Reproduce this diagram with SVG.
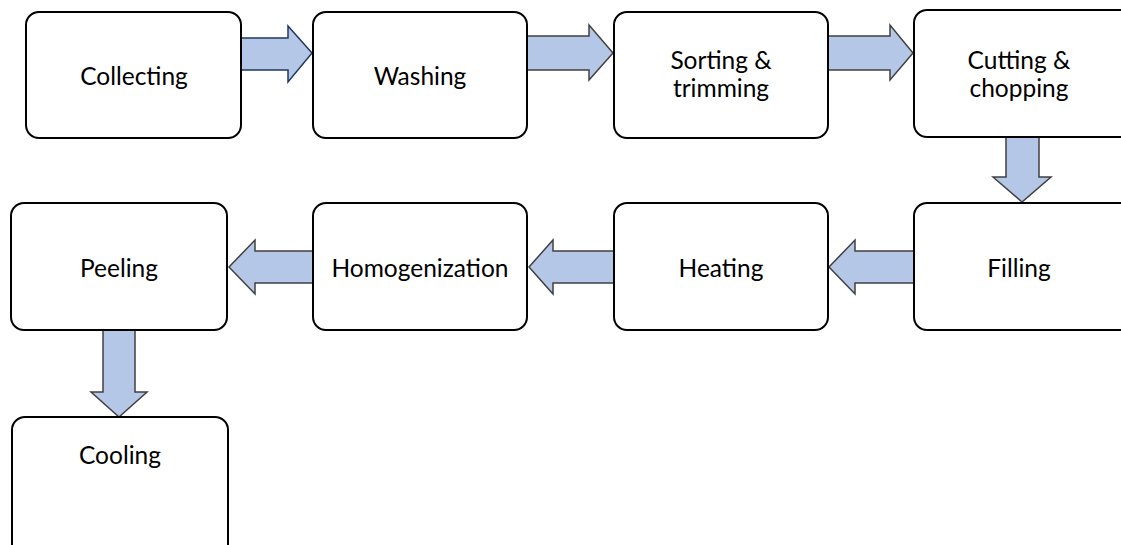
<svg xmlns="http://www.w3.org/2000/svg" width="1121" height="545" viewBox="0 0 1121 545">
<style>
.box{fill:#fff;stroke:#000;stroke-width:2}
.t{font-family:Lato,"Liberation Sans",sans-serif;font-size:24.5px;fill:#000;text-anchor:middle}
.ar{fill:#B4C7E7;stroke:#404040;stroke-width:1.5;stroke-linejoin:miter}
.ar1{fill:#B4C7E7;stroke:#1F3864;stroke-width:1.5}
</style>
<rect width="1121" height="545" fill="#fff"/>
<g id="connectors">
<polygon class="ar1" points="237,38 288,38 288,26 312,53 288,82 288,70 237,70"/>
<polygon class="ar" points="522,36 589,36 589,25 613,53 589,80 589,70 522,70"/>
<polygon class="ar" points="825,36 890,36 890,25 913,53 890,80 890,70 825,70"/>
<polygon class="ar" points="1006,135 1039,135 1039,177 1051,177 1022,202 993,177 1006,177"/>
<polygon class="ar" points="918,251 855,251 855,240 829,267 855,294 855,283 918,283"/>
<polygon class="ar" points="617,251 553,251 553,240 529,267 553,294 553,283 617,283"/>
<polygon class="ar" points="313,251 255,251 255,240 229,267 255,294 255,283 313,283"/>
<polygon class="ar" points="103,325 135,325 135,392 147,392 119,417 91,392 103,392"/>
</g>
<g id="collecting"><rect class="box" x="26" y="12" width="215" height="126" rx="13"/><text class="t" x="134" y="85">Collecting</text></g>
<g id="washing"><rect class="box" x="313" y="12" width="214" height="126" rx="13"/><text class="t" x="420" y="85">Washing</text></g>
<g id="sorting"><rect class="box" x="614" y="12" width="214" height="126" rx="13"/><text class="t" x="721" y="69">Sorting &amp;</text><text class="t" x="721" y="97">trimming</text></g>
<g id="cutting"><rect class="box" x="914" y="10" width="220" height="127" rx="13"/><text class="t" x="1019" y="69">Cutting &amp;</text><text class="t" x="1019" y="97">chopping</text></g>
<g id="peeling"><rect class="box" x="11" y="203" width="216" height="127" rx="13"/><text class="t" x="119" y="277">Peeling</text></g>
<g id="homogenization"><rect class="box" x="313" y="203" width="214" height="127" rx="13"/><text class="t" x="420" y="277">Homogenization</text></g>
<g id="heating"><rect class="box" x="614" y="203" width="214" height="127" rx="13"/><text class="t" x="721" y="277">Heating</text></g>
<g id="filling"><rect class="box" x="914" y="203" width="220" height="127" rx="13"/><text class="t" x="1019" y="277">Filling</text></g>
<g id="cooling"><rect class="box" x="12" y="417" width="216" height="140" rx="13"/><text class="t" x="120" y="464">Cooling</text></g>
</svg>
